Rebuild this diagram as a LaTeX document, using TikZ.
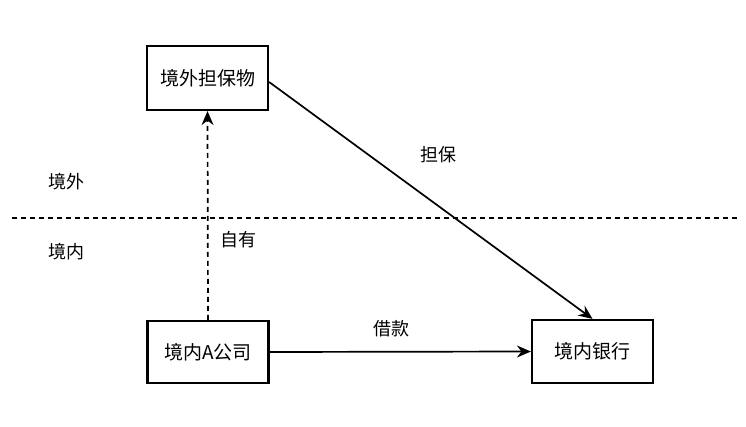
\documentclass[tikz,border=0pt]{standalone}
\usepackage{fontspec}
\newfontfamily\cjk{Noto Sans CJK SC}
\usetikzlibrary{arrows.meta}
\begin{document}
\begin{tikzpicture}[x=1pt,y=-1pt,
  box/.style={draw, line width=2.2pt, minimum width=121pt, minimum height=64pt, inner sep=0pt, font=\cjk\fontsize{19}{22}\selectfont},
  lbl/.style={font=\cjk\fontsize{18}{22}\selectfont, inner sep=0pt},
  arr/.style={line width=1.7pt, -{Stealth[length=14pt, width=12pt]}},
  sep/.style={line width=1.7pt, dash pattern=on 5pt off 4pt}]
\useasboundingbox (0,0) rectangle (746,427);
\node[box] (col) at (207.5,78) {境外担保物};
\node[box, minimum height=62pt] (comp) at (208,352) {境内A公司};
\node[box, minimum height=63pt] (bank) at (592.5,351.5) {境内银行};
\coordinate (L) at (12,218);
\coordinate (R) at (738,218);
\draw[sep] (L) -- (R);
\draw[arr, dash pattern=on 5pt off 4pt] (comp.north) -- (col.south);
\draw[arr] (col.east |- 0,82) -- (bank.north);
\draw[arr] (comp.east) -- (bank.west);
\node[lbl] (l1) at (438,155) {担保};
\node[lbl] (l2) at (66,182) {境外};
\node[lbl] (l3) at (66,252) {境内};
\node[lbl] (l4) at (238,240) {自有};
\node[lbl] (l5) at (391,329) {借款};
\end{tikzpicture}
\end{document}
